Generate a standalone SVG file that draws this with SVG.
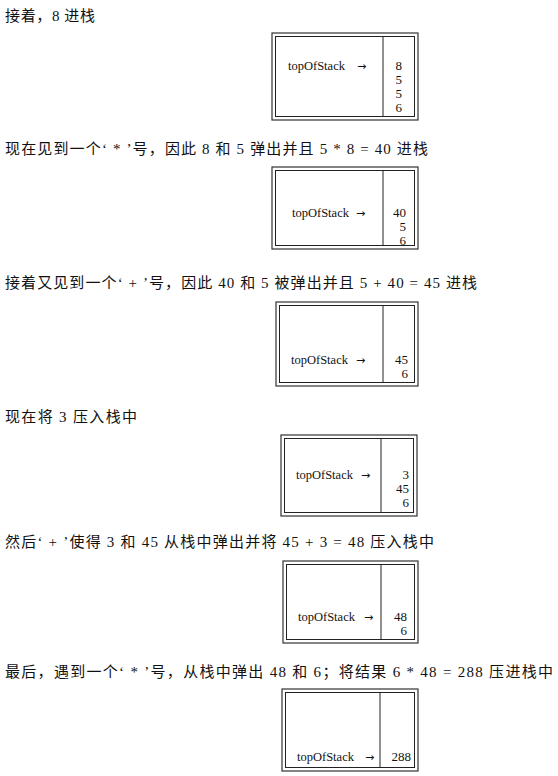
<svg xmlns="http://www.w3.org/2000/svg" width="558" height="776" viewBox="0 0 558 776">
<style>
.bg{fill:#ffffff}
.h{font-family:"Liberation Serif","Noto Sans CJK SC",serif;font-size:15px;fill:#111}
.t{font-family:"Liberation Serif",serif;font-size:12.5px;fill:#111}
.a{font-family:"DejaVu Sans",sans-serif;font-size:11px;fill:#111}
.n{font-family:"Liberation Serif",serif;font-size:13px;fill:#111;text-anchor:end}
.o{fill:none;stroke:#333;stroke-width:1.2}
.i{fill:none;stroke:#222;stroke-width:1}
.d{stroke:#222;stroke-width:1}
</style>
<rect class="bg" x="0" y="0" width="558" height="776"/>
<g id="headings">
<text class="h" x="5" y="21" textLength="90" lengthAdjust="spacing">接着，8 进栈</text>
<text class="h" x="5" y="154" textLength="423" lengthAdjust="spacing">现在见到一个‘ * ’号，因此 8 和 5 弹出并且 5 * 8 = 40 进栈</text>
<text class="h" x="5" y="288" textLength="472" lengthAdjust="spacing">接着又见到一个‘ + ’号，因此 40 和 5 被弹出并且 5 + 40 = 45 进栈</text>
<text class="h" x="5" y="422" textLength="132" lengthAdjust="spacing">现在将 3 压入栈中</text>
<text class="h" x="5" y="547" textLength="429" lengthAdjust="spacing">然后‘ + ’使得 3 和 45 从栈中弹出并将 45 + 3 = 48 压入栈中</text>
<text class="h" x="5" y="677" textLength="548" lengthAdjust="spacing">最后，遇到一个‘ * ’号，从栈中弹出 48 和 6；将结果 6 * 48 = 288 压进栈中</text>
</g>
<g id="stack1">
<rect class="o" x="272" y="33" width="146" height="87"/>
<rect class="i" x="275.5" y="36.5" width="139" height="80"/>
<line class="d" x1="383" y1="36.5" x2="383" y2="116.5"/>
<text class="t" x="288" y="70">topOfStack</text>
<text class="a" x="357" y="70">→</text>
<text class="n" x="402" y="70">8</text>
<text class="n" x="402" y="84">5</text>
<text class="n" x="402" y="98">5</text>
<text class="n" x="402" y="112">6</text>
</g>
<g id="stack2">
<rect class="o" x="272" y="167" width="146" height="82"/>
<rect class="i" x="275.5" y="170.5" width="139" height="75"/>
<line class="d" x1="383" y1="170.5" x2="383" y2="245.5"/>
<text class="t" x="292" y="217">topOfStack</text>
<text class="a" x="356" y="217">→</text>
<text class="n" x="406" y="217">40</text>
<text class="n" x="406" y="231">5</text>
<text class="n" x="406" y="245">6</text>
</g>
<g id="stack3">
<rect class="o" x="276" y="302" width="142" height="84"/>
<rect class="i" x="279.5" y="305.5" width="135" height="77"/>
<line class="d" x1="383" y1="305.5" x2="383" y2="382.5"/>
<text class="t" x="291" y="364">topOfStack</text>
<text class="a" x="356" y="364">→</text>
<text class="n" x="408" y="364">45</text>
<text class="n" x="408" y="378">6</text>
</g>
<g id="stack4">
<rect class="o" x="281" y="435" width="136" height="81"/>
<rect class="i" x="284.5" y="438.5" width="129" height="74"/>
<line class="d" x1="381" y1="438.5" x2="381" y2="512.5"/>
<text class="t" x="296" y="479">topOfStack</text>
<text class="a" x="361" y="479">→</text>
<text class="n" x="409" y="479">3</text>
<text class="n" x="409" y="493">45</text>
<text class="n" x="409" y="507">6</text>
</g>
<g id="stack5">
<rect class="o" x="283" y="561" width="135" height="82"/>
<rect class="i" x="286.5" y="564.5" width="128" height="75"/>
<line class="d" x1="381" y1="564.5" x2="381" y2="639.5"/>
<text class="t" x="298" y="621">topOfStack</text>
<text class="a" x="364" y="621">→</text>
<text class="n" x="407" y="621">48</text>
<text class="n" x="407" y="635">6</text>
</g>
<g id="stack6">
<rect class="o" x="282" y="689" width="136" height="82"/>
<rect class="i" x="285.5" y="692.5" width="129" height="75"/>
<line class="d" x1="380" y1="692.5" x2="380" y2="767.5"/>
<text class="t" x="297" y="761">topOfStack</text>
<text class="a" x="365" y="761">→</text>
<text class="n" x="411" y="761">288</text>
</g>
</svg>
